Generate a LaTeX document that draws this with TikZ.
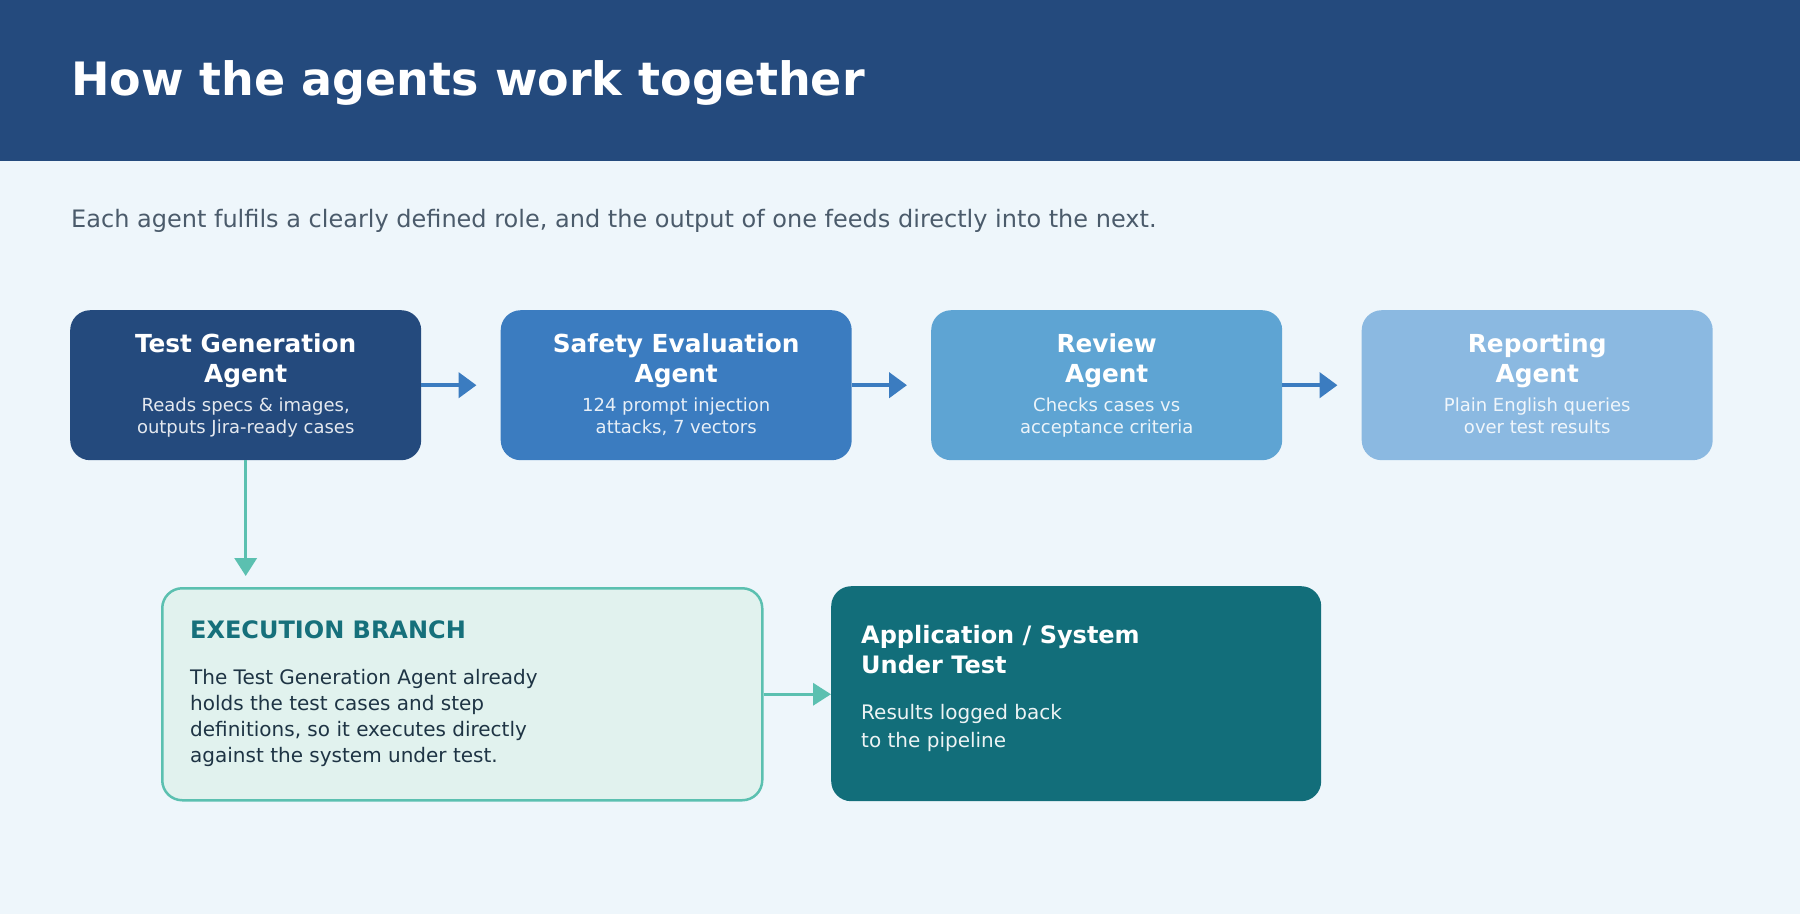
\documentclass[tikz,border=0pt]{standalone}
\usepackage{fontspec}
\setmainfont{DejaVu Sans}
\usetikzlibrary{arrows.meta}
\definecolor{hdr}{HTML}{244A7D}
\definecolor{bgc}{HTML}{EEF6FB}
\definecolor{bA}{HTML}{244A7D}
\definecolor{bB}{HTML}{3B7CC0}
\definecolor{bC}{HTML}{5EA4D3}
\definecolor{bD}{HTML}{8BB9E1}
\definecolor{arrblue}{HTML}{3B7CC0}
\definecolor{teal}{HTML}{5BC0B0}
\definecolor{exfill}{HTML}{E1F2EE}
\definecolor{extitle}{HTML}{16707B}
\definecolor{exbody}{HTML}{1E3444}
\definecolor{appfill}{HTML}{126E7A}
\definecolor{subc}{HTML}{4B5B6B}
\tikzset{
  agent/.style={rounded corners=20pt, minimum width=351pt, minimum height=150pt, inner sep=0pt, anchor=north west},
  atitle/.style={anchor=base, text=white, font=\fontsize{24.8}{28}\selectfont\bfseries, inner sep=0pt},
  adesc/.style={anchor=base, text=white, text opacity=0.88, font=\fontsize{18}{22}\selectfont, inner sep=0pt},
  blueflow/.style={draw=arrblue, line width=4.5pt, -{Triangle[length=18pt,width=25pt]}, shorten >=24pt},
  tealflow/.style={draw=teal, line width=3.5pt, -{Triangle[length=18pt,width=22pt]}},
  exbodytxt/.style={anchor=base west, text=exbody, font=\fontsize{20}{24}\selectfont, inner sep=0pt},
  apptxt/.style={anchor=base west, text=white, text opacity=0.92, font=\fontsize{20}{24}\selectfont, inner sep=0pt},
  apptitle/.style={anchor=base west, text=white, font=\fontsize{24}{28}\selectfont\bfseries, inner sep=0pt},
}
\begin{document}
\begin{tikzpicture}[x=1pt,y=-1pt]
\useasboundingbox (0,0) rectangle (1800,914);
\fill[bgc] (0,0) rectangle (1800,914);
\fill[hdr] (0,0) rectangle (1800,161);
\node[anchor=base west, text=white, font=\fontsize{46}{54}\selectfont\bfseries, inner sep=0pt] (title) at (71,95) {How the agents work together};
\node[anchor=base west, text=subc, font=\fontsize{24}{28}\selectfont, inner sep=0pt] (sub) at (71,227) {Each agent fulfils a clearly defined role, and the output of one feeds directly into the next.};
% agent boxes
\node[agent, fill=bA] (a1) at (70,310) {};
\node[agent, fill=bB] (a2) at (500.5,310) {};
\node[agent, fill=bC] (a3) at (931,310) {};
\node[agent, fill=bD] (a4) at (1361.5,310) {};
\foreach \n/\t/\u/\d/\e in {a1/Test Generation/Agent/{Reads specs \& images,}/outputs Jira-ready cases,
  a2/Safety Evaluation/Agent/124 prompt injection/{attacks, 7 vectors},
  a3/Review/Agent/Checks cases vs/acceptance criteria,
  a4/Reporting/Agent/Plain English queries/over test results}{
  \path (\n.north) ++(0,42) node[atitle] (\n t1) {\t};
  \path (\n.north) ++(0,72) node[atitle] (\n t2) {\u};
  \path (\n.north) ++(0,101.5) node[adesc] (\n d1) {\d};
  \path (\n.north) ++(0,123.5) node[adesc] (\n d2) {\e};
}
\draw[blueflow] (a1.east) -- (a2.west);
\draw[blueflow] (a2.east) -- (a3.west);
\draw[blueflow] (a3.east) -- (a4.west);
% execution branch
\node[draw=teal, line width=2.5pt, fill=exfill, rounded corners=20pt, minimum width=600pt, minimum height=212pt, inner sep=0pt, anchor=north west] (ex) at (161,587) {};
\node[anchor=base west, text=extitle, font=\fontsize{24}{28}\selectfont\bfseries, inner sep=0pt] (ext) at (190,638) {EXECUTION BRANCH};
\node[exbodytxt] (exb1) at (190,684) {The Test Generation Agent already};
\node[exbodytxt] (exb2) at (190,710) {holds the test cases and step};
\node[exbodytxt] (exb3) at (190,736) {definitions, so it executes directly};
\node[exbodytxt] (exb4) at (190,762) {against the system under test.};
% application
\node[fill=appfill, rounded corners=20pt, minimum width=490pt, minimum height=215pt, inner sep=0pt, anchor=north west] (app) at (831,586) {};
\node[apptitle] (app1) at (861,643) {Application / System};
\node[apptitle] (app2) at (861,673) {Under Test};
\node[apptxt] (app3) at (861,719) {Results logged back};
\node[apptxt] (app4) at (861,747) {to the pipeline};
\draw[tealflow, shorten >=11pt] (a1.south) -- (a1.south |- ex.north);
\draw[tealflow] (ex.east) -- (app.west |- ex.east);
\end{tikzpicture}
\end{document}
